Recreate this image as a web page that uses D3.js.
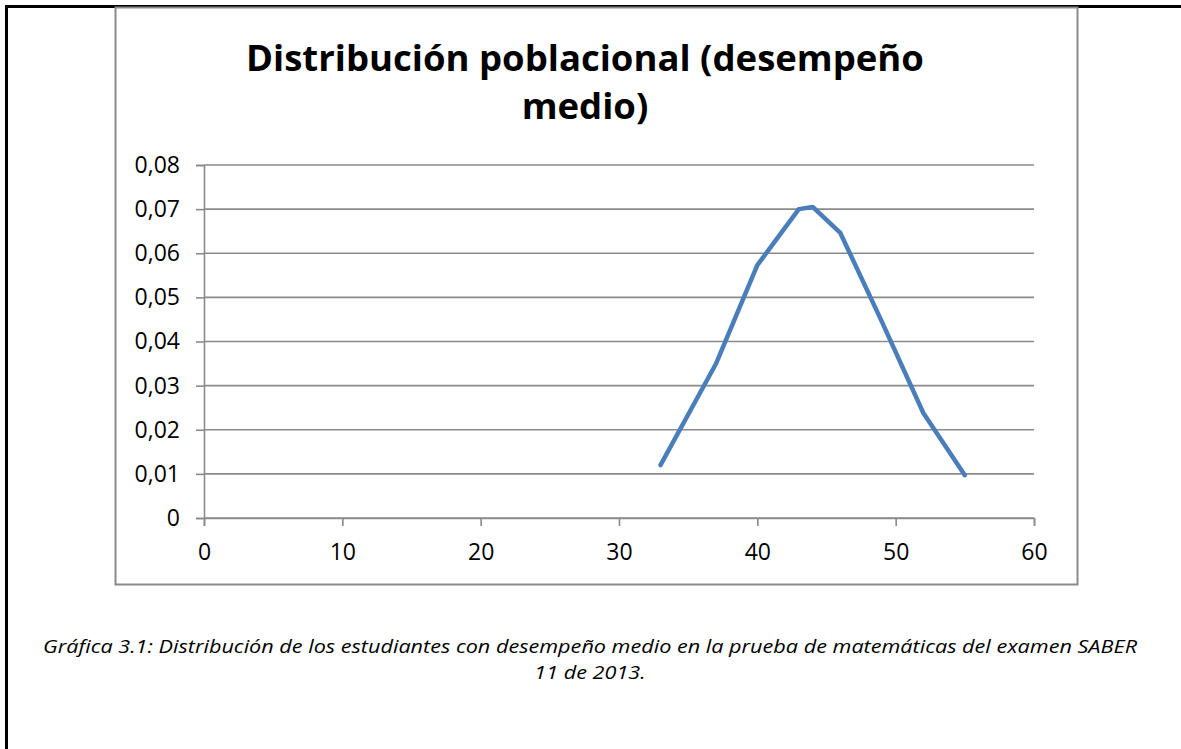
<!doctype html>
<html lang="es">
<head>
    <meta charset="UTF-8">
    <title>Distribución poblacional</title>
    <script src="https://cdnjs.cloudflare.com/ajax/libs/d3/7.8.5/d3.min.js"></script>
    <style>
        body { margin: 0; background: #fff; }
        svg { display: block; }
        .tick text { font-family: "Open Sans", "Noto Sans", sans-serif; font-size: 23px; fill: #000; }
    </style>
</head>
<body>
<svg id="chart" width="1181" height="749"></svg>

<script>
    // data
    var puntaje = [33, 37, 40, 43, 44, 46, 49, 52, 55];
    var densidad = [0.0120, 0.0349, 0.0573, 0.0700, 0.0705, 0.0646, 0.0445, 0.0238, 0.0097];
    var xTicks = [0, 10, 20, 30, 40, 50, 60];
    var yTicks = [0, 0.01, 0.02, 0.03, 0.04, 0.05, 0.06, 0.07, 0.08];

    var titulo = ["Distribución poblacional (desempeño", "medio)"];
    var leyenda = ["Gráfica 3.1: Distribución de los estudiantes con desempeño medio en la prueba de matemáticas del examen SABER",
        "11 de 2013."];

    var svg = d3.select('#chart');
    var gray = '#8a8a8a';

    // page frame (left + top only)
    svg.append('path')
        .attr('d', 'M6.5,749 V6.5 H1181')
        .attr('fill', 'none')
        .attr('stroke', '#000')
        .attr('stroke-width', 3);

    // chart box
    svg.append('rect')
        .attr('x', 115.5).attr('y', 7.5)
        .attr('width', 962).attr('height', 577)
        .attr('fill', 'none')
        .attr('stroke', gray)
        .attr('stroke-width', 2);

    svg.selectAll('text.titulo')
        .data(titulo)
        .enter().append('text')
        .attr('class', 'titulo')
        .attr('x', 585)
        .attr('y', function (d, i) { return 71 + i * 48; })
        .attr('text-anchor', 'middle')
        .attr('font-family', '"Open Sans", "Noto Sans", sans-serif')
        .attr('font-weight', 'bold')
        .attr('font-size', '36.5px')
        .text(function (d) { return d; });

    var x = d3.scaleLinear().domain([0, 60]).range([204, 1034]);
    var y = d3.scaleLinear().domain([0, 0.08]).range([518, 165]);

    // grid
    svg.append('g').selectAll('line')
        .data(yTicks)
        .enter().append('line')
        .attr('x1', x(0)).attr('x2', x(60))
        .attr('y1', function (d) { return y(d); })
        .attr('y2', function (d) { return y(d); })
        .attr('stroke', gray)
        .attr('stroke-width', 1.6);

    var fmt = function (d) { return d === 0 ? '0' : d3.format('.2f')(d).replace('.', ','); };

    var yAxis = svg.append('g')
        .attr('transform', 'translate(' + x(0) + ',0)')
        .call(d3.axisLeft(y).tickValues(yTicks).tickFormat(fmt).tickSize(8).tickPadding(16));

    var xAxis = svg.append('g')
        .attr('transform', 'translate(0,' + y(0) + ')')
        .call(d3.axisBottom(x).tickValues(xTicks).tickSize(8).tickPadding(18));

    [xAxis, yAxis].forEach(function (ax) {
        ax.select('.domain').attr('stroke', gray).attr('stroke-width', 1.6);
        ax.selectAll('.tick line').attr('stroke', gray).attr('stroke-width', 1.6);
    });

    var line = d3.line()
        .x(function (d, i) { return x(puntaje[i]); })
        .y(function (d) { return y(d); });

    svg.append('path')
        .datum(densidad)
        .attr('d', line)
        .attr('fill', 'none')
        .attr('stroke', '#4a7ebb')
        .attr('stroke-width', 4.5)
        .attr('stroke-linejoin', 'round')
        .attr('stroke-linecap', 'round');

    var cap = svg.selectAll('text.leyenda')
        .data(leyenda)
        .enter().append('text')
        .attr('class', 'leyenda')
        .attr('x', 590)
        .attr('y', function (d, i) { return 653 + i * 26; })
        .attr('text-anchor', 'middle')
        .attr('font-family', '"Open Sans", "Noto Sans", sans-serif')
        .attr('font-style', 'italic')
        .attr('font-size', '17.5px')
        .text(function (d) { return d; });

    // stretch caption to the width of the original line (Calibri is narrower in height/wider in run)
    var ratio = 1094 / cap.node().getComputedTextLength();
    cap.each(function () {
        d3.select(this)
            .attr('textLength', this.getComputedTextLength() * ratio)
            .attr('lengthAdjust', 'spacingAndGlyphs');
    });
</script>
</body>
</html>
